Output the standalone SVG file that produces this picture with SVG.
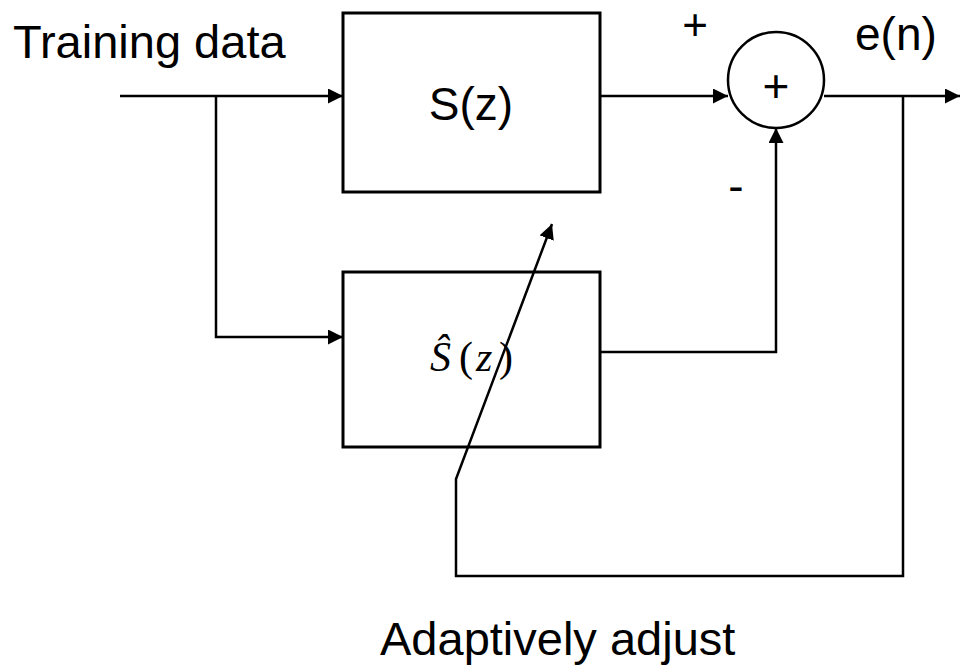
<svg xmlns="http://www.w3.org/2000/svg" width="960" height="666" viewBox="0 0 960 666">
<style>
.ln{fill:none;stroke:#000;stroke-width:2.5;}
.box{fill:none;stroke:#000;stroke-width:3;}
.t{font-family:"Liberation Sans",Arial,sans-serif;fill:#000;}
.m{font-family:"Liberation Serif","Times New Roman",serif;fill:#000;font-size:42px;}
</style>
<defs>
<marker id="ah" markerUnits="userSpaceOnUse" markerWidth="15" markerHeight="15" refX="15" refY="7.5" orient="auto" viewBox="0 0 15 15">
<path d="M0,0 L15,7.5 L0,15 z" fill="#000"/>
</marker>
</defs>
<rect width="960" height="666" fill="#fff"/>
<g id="connectors">
<path class="ln" d="M120,96 L343,96" marker-end="url(#ah)"/>
<path class="ln" d="M216,96 L216,337 L343,337" marker-end="url(#ah)"/>
<path class="ln" d="M600,96 L728,96" marker-end="url(#ah)"/>
<path class="ln" d="M824,96 L960,96" marker-end="url(#ah)"/>
<path class="ln" d="M600,352 L776,352 L776,128" marker-end="url(#ah)"/>
<path class="ln" d="M903,96 L903,576 L456,576 L456,479 L552,224" marker-end="url(#ah)"/>
</g>
<g id="node-S">
<rect class="box" x="343" y="13" width="257" height="179"/>
<text class="t" x="471" y="120" font-size="46" text-anchor="middle">S(z)</text>
</g>
<g id="node-Shat">
<rect class="box" x="343" y="272" width="257" height="175"/>
<text class="m" y="371"><tspan x="430" font-style="italic">Ŝ</tspan><tspan x="459">(</tspan><tspan x="476" font-style="italic">z</tspan><tspan x="499">)</tspan></text>
</g>
<g id="node-sum">
<circle cx="776" cy="80" r="48" fill="#fff" stroke="#000" stroke-width="2.5"/>
<text class="t" x="776" y="102" font-size="46" text-anchor="middle">+</text>
</g>
<g id="labels">
<text class="t" x="13" y="58" font-size="47">Training data</text>
<text class="t" x="695" y="40" font-size="44" text-anchor="middle">+</text>
<text class="t" x="736" y="202" font-size="46" text-anchor="middle">-</text>
<text class="t" x="855" y="50" font-size="46">e(n)</text>
<text class="t" x="380" y="655" font-size="47">Adaptively adjust</text>
</g>
</svg>
